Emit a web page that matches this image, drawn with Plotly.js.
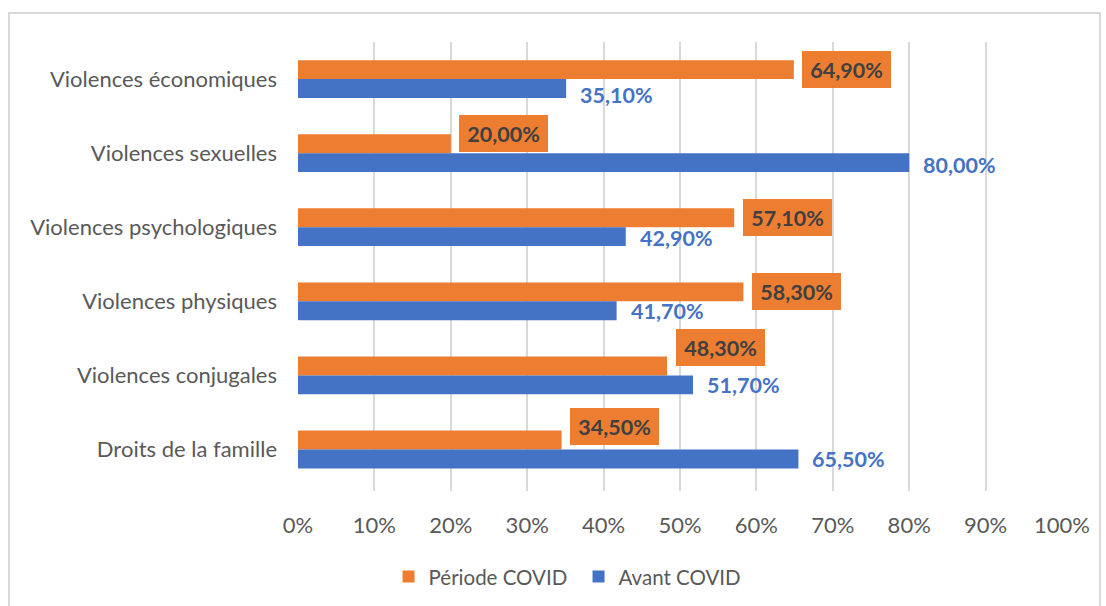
<!DOCTYPE html>
<html>
<head>
<meta charset="utf-8">
<script src="https://cdn.plot.ly/plotly-3.0.1.min.js"></script>
<style>
  html, body { margin: 0; padding: 0; background: #ffffff; }
  #chart { width: 1106px; height: 606px; }
</style>
</head>
<body>
<div id="chart"></div>
<script>
// Categories, listed top to bottom
const categories = [
  'Violences économiques',
  'Violences sexuelles',
  'Violences psychologiques',
  'Violences physiques',
  'Violences conjugales',
  'Droits de la famille'
];

// Shares (%) per period
const periodeCovid = [64.9, 20.0, 57.1, 58.3, 48.3, 34.5];
const avantCovid   = [35.1, 80.0, 42.9, 41.7, 51.7, 65.5];

const seriesNames = ['Période COVID', 'Avant COVID'];
const xTickValues = [0, 10, 20, 30, 40, 50, 60, 70, 80, 90, 100];

// Vertical nudges (px, up positive) keeping value labels clear of each other
const orangeLabelLift = [0, 10, 0, 0, 18.5, 13.5];
const blueLabelLift   = [-6.5, -2, -1, 0, 0, 0];

const ORANGE = '#ED7D31';
const BLUE = '#4472C4';
const FONT = 'Lato, "Open Sans", sans-serif';

const fmt = v => v.toFixed(2).replace('.', ',') + '%';

const traces = [
  {
    type: 'bar', orientation: 'h', name: seriesNames[0],
    y: categories, x: periodeCovid,
    marker: { color: ORANGE }, hoverinfo: 'skip'
  },
  {
    type: 'bar', orientation: 'h', name: seriesNames[1],
    y: categories, x: avantCovid,
    marker: { color: BLUE }, hoverinfo: 'skip'
  }
];

const annotations = [];
categories.forEach((c, i) => {
  annotations.push({
    x: periodeCovid[i], y: c, xref: 'x', yref: 'y',
    text: fmt(periodeCovid[i]), showarrow: false,
    xanchor: 'left', yanchor: 'middle',
    xshift: 8.5, yshift: 9.5 + orangeLabelLift[i],
    bgcolor: ORANGE, borderwidth: 0, borderpad: 0,
    width: 89, height: 37, align: 'center',
    font: { family: FONT, size: 21.5, color: '#404040', weight: 'bold' }
  });
  annotations.push({
    x: avantCovid[i], y: c, xref: 'x', yref: 'y',
    text: fmt(avantCovid[i]), showarrow: false,
    xanchor: 'left', yanchor: 'middle',
    xshift: 14, yshift: -9.5 + blueLabelLift[i],
    borderwidth: 0, borderpad: 0,
    font: { family: FONT, size: 21.5, color: BLUE, weight: 'bold' }
  });
});

const layout = {
  width: 1106, height: 606,
  margin: { l: 298, r: 44, t: 42, b: 115, autoexpand: false },
  paper_bgcolor: '#ffffff', plot_bgcolor: '#ffffff',
  font: { family: FONT, color: '#595959', size: 22 },
  barmode: 'group', bargap: 0.49, bargroupgap: 0,
  showlegend: true,
  legend: {
    orientation: 'h',
    xref: 'container', x: 0.3513, xanchor: 'left',
    yref: 'container', y: 0.0483, yanchor: 'middle',
    font: { family: FONT, size: 20.5, color: '#595959' },
    traceorder: 'normal', entrywidth: 145, entrywidthmode: 'pixels'
  },
  xaxis: {
    range: [0, 100], tickvals: xTickValues,
    ticktext: xTickValues.map(v => v + '%'),
    tickfont: { size: 22 },
    showgrid: true, gridcolor: '#d9d9d9', gridwidth: 2,
    zeroline: false, showline: false, ticks: '',
    ticklabelstandoff: 19, fixedrange: true, automargin: false
  },
  yaxis: {
    type: 'category', autorange: 'reversed',
    tickfont: { size: 22 },
    showgrid: false, zeroline: false, showline: false, ticks: '',
    ticklabelstandoff: 20, fixedrange: true, automargin: false
  },
  shapes: [{
    type: 'rect', xref: 'paper', yref: 'paper',
    x0: -0.3783, x1: 1.0497, y0: -0.287, y1: 1.0646,
    line: { color: '#d9d9d9', width: 2 }, fillcolor: 'rgba(0,0,0,0)', layer: 'below'
  }],
  annotations: annotations
};

Plotly.newPlot('chart', traces, layout, { staticPlot: true, displayModeBar: false });
</script>
</body>
</html>
